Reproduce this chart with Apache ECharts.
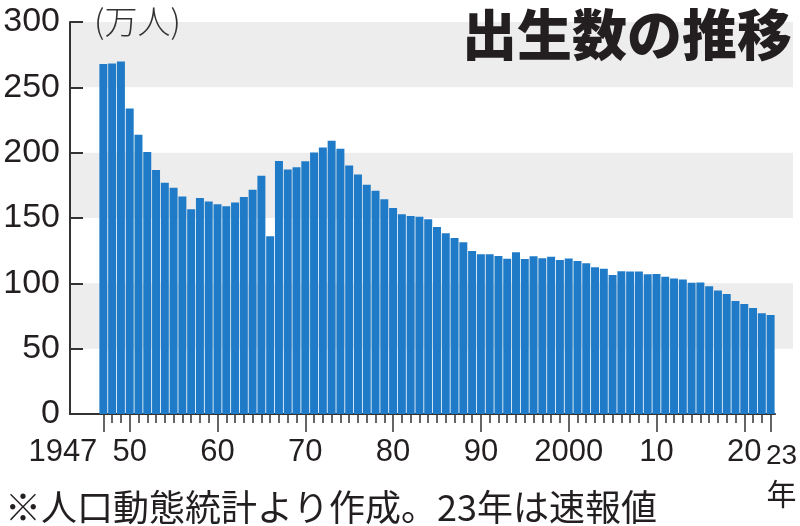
<!DOCTYPE html>
<html>
<head>
<meta charset="utf-8">
<style>
html, body { margin: 0; padding: 0; background: #fff; }
#main { width: 800px; height: 526px; }
</style>
<script src="https://cdn.jsdelivr.net/npm/echarts@6/dist/echarts.min.js"></script>
</head>
<body>
<div id="main"></div>
<script>
// 出生数（万人）1947-2023、23年は速報値
var years = [];
for (var y = 1947; y <= 2023; y++) years.push(y);
var births = [
    267.9, 268.2, 269.7, 233.8, 213.8, 200.5, 186.8, 177.0, 173.1, 166.5,
    156.7, 165.3, 162.6, 160.6, 158.9, 161.9, 166.0, 171.7, 182.4, 136.1,
    193.6, 187.2, 188.9, 193.4, 200.1, 203.9, 209.2, 203.0, 190.1, 183.3,
    175.5, 170.9, 164.3, 157.7, 152.9, 151.5, 150.9, 149.0, 143.2, 138.3,
    134.7, 131.4, 124.7, 122.2, 122.3, 120.9, 118.8, 123.8, 118.7, 120.7,
    119.2, 120.3, 117.8, 119.1, 117.1, 115.4, 112.4, 111.1, 106.3, 109.3,
    109.0, 109.1, 107.0, 107.1, 105.1, 103.7, 103.0, 100.4, 100.6, 97.7,
    94.6, 91.8, 86.5, 84.1, 81.2, 77.1, 75.8
];
var labelYears = [1947, 1950, 1960, 1970, 1980, 1990, 2000, 2010, 2020, 2023];
var labelTexts = ['1947', '50', '60', '70', '80', '90', '2000', '10', '20', '23'];

var chart = echarts.init(document.getElementById('main'));

var xMin = 1943.2, xMax = 2023.5;
var plotLeft = 70, plotRight = 775;
var pxPerYear = (plotRight - plotLeft) / (xMax - xMin);

var numFont = '"Liberation Sans Narrow", "Liberation Sans", sans-serif';
var jpFont = '"Noto Sans CJK JP", sans-serif';
var ink = '#231f20';
var firstYear = labelYears[0];
var lastYear = labelYears[labelYears.length - 1];
var midYears = labelYears.slice(1, -1);

var barData = [];
for (var i = 0; i < years.length; i++) barData.push([years[i], births[i]]);

function yearLabel(val) {
    return labelTexts[labelYears.indexOf(val)];
}

// 年軸（目盛・ラベル用）
function yearAxis(opt) {
    return echarts.util.merge({
        type: 'value', gridIndex: 0, min: xMin, max: xMax,
        position: 'bottom', offset: 0,
        splitLine: { show: false },
        axisLine: { show: false },
        axisTick: { show: false },
        axisLabel: {
            show: true,
            showMinLabel: true,
            showMaxLabel: true,
            margin: 23,
            color: ink,
            fontFamily: numFont,
            fontSize: 31,
            formatter: yearLabel
        }
    }, opt, true);
}

var option = {
    animation: false,
    title: {
        text: '出生数の推移',
        right: 8,
        top: 7,
        padding: 0,
        textStyle: { fontFamily: jpFont, fontSize: 55, fontWeight: 900, color: ink }
    },
    graphic: [
        {
            type: 'text', left: 94, top: 5, z: 100,
            style: { text: '(万人)', font: '300 33px ' + jpFont, fill: '#333' }
        },
        {
            type: 'text', left: 5, top: 489, z: 100,
            style: { text: '※人口動態統計より作成。23年は速報値', font: '36px ' + jpFont, fill: ink }
        }
    ],
    grid: [
        { left: plotLeft, right: 800 - plotRight, top: 22, bottom: 112, containLabel: false, outerBoundsMode: 'none' },
        // 背景の帯だけ
        { left: plotLeft, right: 7, top: 22, bottom: 112, containLabel: false, outerBoundsMode: 'none' }
    ],
    xAxis: [
        yearAxis({
            axisLine: { show: true, onZero: false, lineStyle: { color: '#333', width: 2 } },
            axisTick: { show: true, length: 9, customValues: years, lineStyle: { color: '#333', width: 1.5 } },
            axisLabel: { show: false }
        }),
        yearAxis({
            axisTick: { show: true, length: 18, customValues: labelYears, lineStyle: { color: '#333', width: 1.5 } },
            axisLabel: { customValues: midYears }
        }),
        yearAxis({
            axisLabel: { customValues: [firstYear], align: 'right', padding: [0, 6, 0, 0] }
        }),
        yearAxis({
            axisLabel: {
                customValues: [lastYear], align: 'center', padding: [0, 0, 0, 22],
                fontSize: 28,
                formatter: function (val) { return yearLabel(val) + '\n{n|年}'; },
                lineHeight: 38,
                rich: { n: { fontFamily: jpFont, fontSize: 30, color: ink, lineHeight: 38 } }
            }
        }),
        { type: 'value', gridIndex: 1, min: 0, max: 1, show: false }
    ],
    yAxis: [
        {
            type: 'value', gridIndex: 0, min: 0, max: 300, interval: 50,
            splitLine: { show: false },
            axisLine: { show: true, lineStyle: { color: '#333', width: 2 } },
            axisTick: { show: true, inside: true, length: 13, lineStyle: { color: '#333', width: 2 } },
            axisLabel: { margin: 10, color: ink, fontFamily: numFont, fontSize: 34 }
        },
        {
            type: 'value', gridIndex: 1, min: 0, max: 300, interval: 50,
            axisLine: { show: false },
            axisTick: { show: false },
            axisLabel: { show: false },
            splitLine: { show: false },
            splitArea: { show: true, areaStyle: { color: ['rgba(255,255,255,0)', '#ededed'] } }
        }
    ],
    series: [
        {
            type: 'bar',
            xAxisIndex: 0,
            yAxisIndex: 0,
            barWidth: pxPerYear - 0.8,
            itemStyle: { color: '#1f7bc7' },
            data: barData
        }
    ]
};
chart.setOption(option);
</script>
</body>
</html>
